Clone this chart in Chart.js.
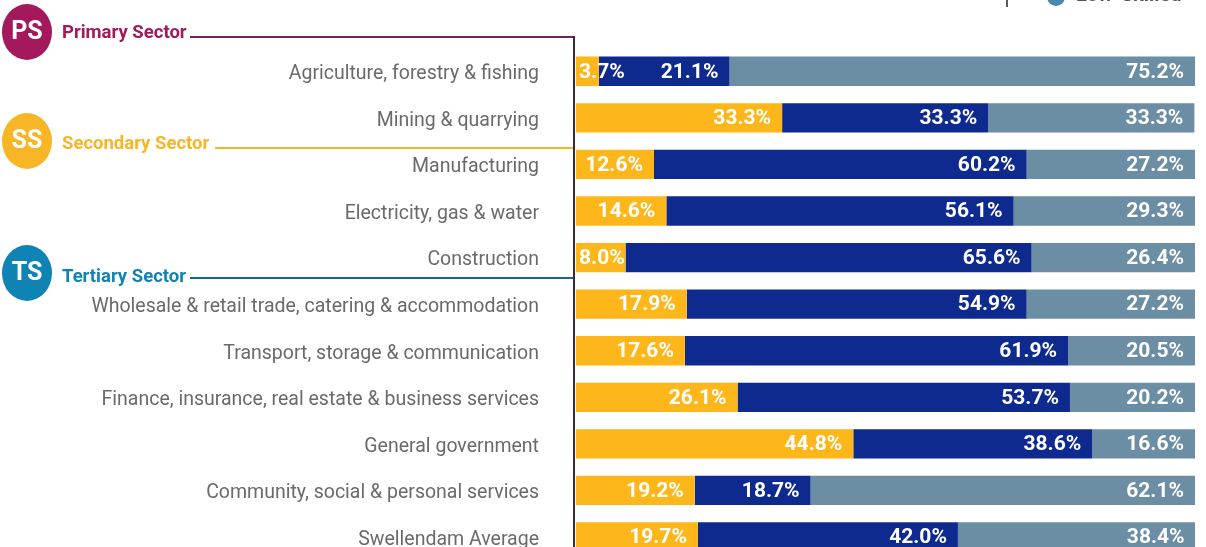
<!DOCTYPE html>
<html>
<head>
<meta charset="utf-8">
<script src="https://cdn.jsdelivr.net/npm/chart.js@4"></script>
<style>
html, body { margin: 0; padding: 0; background: #fff; overflow: hidden; }
#wrap { position: relative; width: 1206px; height: 547px; overflow: hidden; }
#chart { position: absolute; left: 0; top: 0; }
</style>
</head>
<body>
<div id="wrap"><canvas id="chart" width="1206" height="601"></canvas></div>
<script>
// Values
var categories = [
    'Agriculture, forestry & fishing',
    'Mining & quarrying',
    'Manufacturing',
    'Electricity, gas & water',
    'Construction',
    'Wholesale & retail trade, catering & accommodation',
    'Transport, storage & communication',
    'Finance, insurance, real estate & business services',
    'General government',
    'Community, social & personal services',
    'Swellendam Average'
];
var skilled = [3.7, 33.3, 12.6, 14.6, 8.0, 17.9, 17.6, 26.1, 44.8, 19.2, 19.7];
var semiSkilled = [21.1, 33.3, 60.2, 56.1, 65.6, 54.9, 61.9, 53.7, 38.6, 18.7, 42.0];
var lowSkilled = [75.2, 33.3, 27.2, 29.3, 26.4, 27.2, 20.5, 20.2, 16.6, 62.1, 38.4];

var sectors = [
    { tag: 'PS', name: 'Primary Sector', color: '#a3195b', line: '#7d1f55', cy: 32, ty: 33, ly: 37, x0: 190 },
    { tag: 'SS', name: 'Secondary Sector', color: '#f6b626', line: '#f6b626', cy: 141, ty: 144, ly: 148, x0: 215 },
    { tag: 'TS', name: 'Tertiary Sector', color: '#0f84b4', line: '#12688f', cy: 273, ty: 277, ly: 278, x0: 190 }
];

// Percentages on the bars, right aligned inside each segment
var barLabels = {
    id: 'barLabels',
    afterDatasetsDraw: function (chart) {
        var ctx = chart.ctx;
        ctx.save();
        ctx.font = 'bold 21px Roboto, sans-serif';
        ctx.textAlign = 'left';
        ctx.textBaseline = 'middle';
        ctx.fillStyle = '#fff';
        chart.data.datasets.forEach(function (ds, i) {
            chart.getDatasetMeta(i).data.forEach(function (bar, j) {
                var text = ds.data[j].toFixed(1) + '%';
                var w = ctx.measureText(text).width;
                // narrow segments: keep the label at the start of the bar
                var x = Math.max(bar.x - 11 - w, bar.base + 3);
                ctx.fillText(text, x, bar.y + 1);
            });
        });
        ctx.restore();
    }
};

// Sector badges and the lines running across to the bars
var sectorNotes = {
    id: 'sectorNotes',
    afterDraw: function (chart) {
        var ctx = chart.ctx;
        var left = chart.chartArea.left - 2;
        ctx.save();
        sectors.forEach(function (s) {
            ctx.strokeStyle = s.line;
            ctx.lineWidth = 2;
            ctx.beginPath();
            ctx.moveTo(s.x0, s.ly);
            ctx.lineTo(left, s.ly);
            ctx.stroke();

            ctx.fillStyle = s.color;
            ctx.beginPath();
            ctx.ellipse(27, s.cy, 25, 28, 0, 0, Math.PI * 2);
            ctx.fill();

            ctx.fillStyle = '#fff';
            ctx.font = 'bold 25px Roboto, sans-serif';
            ctx.textAlign = 'center';
            ctx.textBaseline = 'middle';
            ctx.fillText(s.tag, 27, s.cy + 1);

            ctx.fillStyle = s.color;
            ctx.font = 'bold 18.5px Roboto, sans-serif';
            ctx.textAlign = 'left';
            ctx.fillText(s.name, 62, s.ty);
        });
        ctx.strokeStyle = '#3a2a3a';
        ctx.lineWidth = 2;
        ctx.beginPath();
        ctx.moveTo(left, sectors[0].ly - 1);
        ctx.lineTo(left, chart.height);
        ctx.stroke();

        // legend is cut off by the top edge of the picture
        ctx.strokeStyle = '#222';
        ctx.lineWidth = 1.5;
        ctx.beginPath();
        ctx.moveTo(1007, 0);
        ctx.lineTo(1007, 7);
        ctx.stroke();
        ctx.fillStyle = '#4a86ad';
        ctx.beginPath();
        ctx.arc(1056, -3, 9, 0, Math.PI * 2);
        ctx.fill();
        ctx.fillStyle = '#555';
        ctx.font = 'bold 20px Roboto, sans-serif';
        ctx.textAlign = 'left';
        ctx.fillText('Low-Skilled', 1076, -4);
        ctx.fillStyle = '#f6b626';
        ctx.fillText('Semi-Skilled', 862, -8);
        ctx.restore();
    }
};

var myChart = new Chart(document.getElementById('chart'), {
    type: 'bar',
    data: {
        labels: categories,
        datasets: [
            { label: 'Skilled', data: skilled, backgroundColor: '#fdb71a' },
            { label: 'Semi-Skilled', data: semiSkilled, backgroundColor: '#0f2a8f' },
            { label: 'Low-Skilled', data: lowSkilled, backgroundColor: '#6b8ea4' }
        ]
    },
    plugins: [barLabels, sectorNotes],
    options: {
        indexAxis: 'y',
        responsive: false,
        animation: false,
        layout: { padding: { top: 48, right: 11, bottom: 0, left: 0 } },
        datasets: { bar: { categoryPercentage: 0.63, barPercentage: 1 } },
        plugins: { legend: { display: false }, tooltip: { enabled: false } },
        scales: {
            x: {
                stacked: true,
                min: 0,
                max: 100,
                display: false
            },
            y: {
                stacked: true,
                grid: { display: false },
                border: { display: false },
                afterFit: function (axis) { axis.width = 576; },
                ticks: {
                    padding: 29,
                    labelOffset: 3,
                    color: '#6a6a6a',
                    font: { family: 'Roboto', size: 19.5 }
                }
            }
        }
    }
});
</script>
</body>
</html>
